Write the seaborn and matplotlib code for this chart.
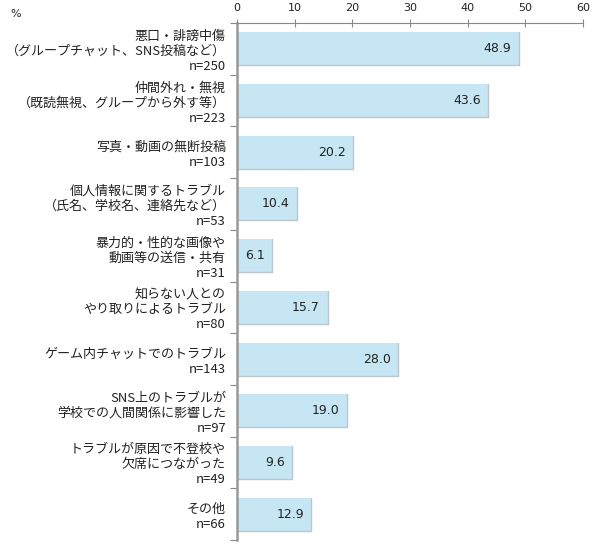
import matplotlib
matplotlib.use("Agg")
import matplotlib.pyplot as plt
import seaborn as sns
import pandas as pd
from matplotlib.ticker import FixedLocator

categories = [
    "悪口・誹謗中傷\n（グループチャット、SNS投稿など）\nn=250",
    "仲間外れ・無視\n（既読無視、グループから外す等）\nn=223",
    "写真・動画の無断投稿\nn=103",
    "個人情報に関するトラブル\n（氏名、学校名、連絡先など）\nn=53",
    "暴力的・性的な画像や\n動画等の送信・共有\nn=31",
    "知らない人との\nやり取りによるトラブル\nn=80",
    "ゲーム内チャットでのトラブル\nn=143",
    "SNS上のトラブルが\n学校での人間関係に影響した\nn=97",
    "トラブルが原因で不登校や\n欠席につながった\nn=49",
    "その他\nn=66",
]
values = [48.9, 43.6, 20.2, 10.4, 6.1, 15.7, 28.0, 19.0, 9.6, 12.9]
xticks = [0, 10, 20, 30, 40, 50, 60]

sns.set_style("white")
plt.rcParams["font.family"] = ["Noto Sans CJK JP", "DejaVu Sans"]

df = pd.DataFrame({"cat": categories, "val": values})

fig = plt.figure(figsize=(6.0, 5.44), dpi=100)
ax = fig.add_axes([237 / 600, 4 / 544, 346 / 600, 517 / 544])

sns.barplot(data=df, y="cat", x="val", orient="h", color="#C6E6F4",
            width=0.64, edgecolor="none", saturation=1, ax=ax)

# subtle shadow edge on right/bottom
for p in ax.patches:
    x0, y0 = p.get_x(), p.get_y()
    w, h = p.get_width(), p.get_height()
    ax.plot([x0 + w, x0 + w], [y0, y0 + h], color="#BCC6CB", lw=1.0)
    ax.plot([x0, x0 + w], [y0 + h, y0 + h], color="#BCC6CB", lw=1.0)

for i, v in enumerate(values):
    ax.text(v - 1.3, i, f"{v:.1f}", ha="right", va="center", fontsize=9,
            color="#222222", family=["DejaVu Sans"])

ax.set_xlim(0, 60)
ax.set_ylim(len(values) - 0.5, -0.5)
ax.xaxis.tick_top()
ax.set_xticks(xticks)
ax.set_xticklabels([str(t) for t in xticks], fontsize=8, family=["DejaVu Sans"], color="#222222")
ax.tick_params(axis="x", which="major", direction="inout", length=6, width=0.8,
               color="#888888", pad=4)

ax.set_yticks(range(len(categories)))
ax.set_yticklabels(categories, fontsize=9.4, linespacing=1.2, color="#222222")
ax.tick_params(axis="y", which="major", length=0, pad=8)
ax.yaxis.set_minor_locator(FixedLocator([i + 0.5 for i in range(-1, len(values))]))
ax.tick_params(axis="y", which="minor", length=5, width=0.8, color="#888888", left=True)

ax.set_xlabel("")
ax.set_ylabel("")
for s in ["right", "bottom"]:
    ax.spines[s].set_visible(False)
ax.spines["top"].set_color("#888888")
ax.spines["top"].set_linewidth(0.8)
ax.spines["left"].set_color("#999999")
ax.spines["left"].set_linewidth(1.8)

fig.text(10 / 600, 1 - 14 / 544, "%", fontsize=8, va="center", ha="left",
         family=["DejaVu Sans"], color="#222222")

fig.savefig("out.png", dpi=100)
